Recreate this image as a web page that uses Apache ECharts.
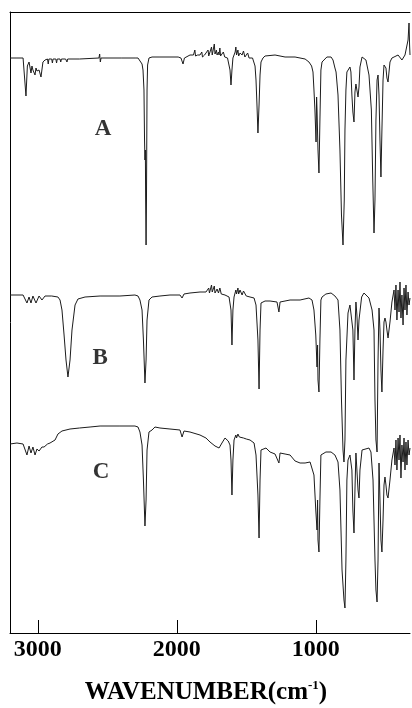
<!DOCTYPE html>
<html>
<head>
<meta charset="utf-8">
<script src="https://cdn.jsdelivr.net/npm/echarts@6/dist/echarts.min.js"></script>
<style>html,body{margin:0;padding:0;background:#fff;}#c{width:412px;height:708px;}</style>
</head>
<body>
<div id="c"></div>
<script>
// Wavenumber (cm-1) vs. relative depth (arbitrary units, larger = lower on the page)
var xTicks = [1000, 2000, 3000];
var traceNames = ['A', 'B', 'C'];
var traceLabelPos = [[2531, 117], [2552, 346], [2545, 460]];

var specA = [[3200,46],[3150,46],[3106,46],[3092,48],[3085,84],[3075,54],[3063,50],[3049,61],[3042,54],[3035,58],[3020,63],[3013,56],[3006,59],[2991,58],[2977,65],[2963,50],[2948,48],[2930,47],[2925,52],[2920,47],[2900,47],[2895,51],[2890,47],[2870,47],[2865,51],[2860,47],[2840,47],[2835,50],[2830,47],[2800,47],[2790,50],[2785,47],[2700,47],[2560,46],[2555,42],[2550,50],[2545,46],[2400,46],[2300,46],[2279,46],[2265,48],[2250,52],[2243,58],[2236,78],[2232,128],[2229,148],[2226,138],[2224,188],[2221,233],[2218,188],[2214,78],[2210,53],[2200,46],[2178,45],[2121,45],[2049,45],[1990,45],[1970,46],[1955,52],[1945,46],[1934,44],[1905,43],[1880,43],[1870,38],[1865,44],[1850,43],[1833,43],[1820,40],[1815,45],[1800,43],[1790,43],[1775,38],[1770,44],[1761,42],[1750,35],[1745,43],[1735,41],[1730,32],[1725,42],[1715,38],[1710,43],[1700,40],[1696,43],[1690,36],[1685,44],[1675,42],[1665,40],[1655,45],[1645,43],[1635,46],[1625,48],[1617,58],[1610,73],[1603,58],[1596,46],[1588,43],[1580,40],[1575,35],[1570,43],[1560,38],[1555,44],[1545,41],[1530,43],[1520,39],[1510,45],[1500,43],[1490,41],[1480,46],[1470,44],[1455,46],[1444,48],[1437,54],[1430,68],[1423,93],[1416,121],[1408,93],[1401,63],[1394,50],[1380,46],[1365,44],[1293,43],[1221,45],[1149,45],[1077,47],[1049,50],[1030,54],[1020,60],[1013,78],[1006,98],[998,130],[994,85],[991,98],[984,138],[977,161],[970,108],[963,58],[955,50],[941,48],[920,45],[890,45],[876,48],[862,56],[854,60],[840,83],[826,138],[815,203],[804,233],[795,188],[790,118],[783,78],[776,60],[768,58],[754,55],[747,60],[740,83],[733,100],[725,110],[718,80],[711,72],[704,71],[696,85],[689,75],[682,55],[667,45],[653,45],[639,48],[617,63],[600,98],[590,168],[581,221],[574,188],[567,108],[559,68],[552,63],[545,83],[538,128],[531,165],[524,118],[516,68],[509,53],[502,51],[495,56],[488,66],[480,70],[473,60],[466,50],[452,46],[437,45],[423,43],[408,43],[394,42],[380,48],[372,46],[358,43],[344,44],[336,28],[329,11],[325,33],[322,43]];

var specB = [[3200,283],[3106,283],[3092,284],[3078,291],[3063,285],[3049,291],[3035,284],[3013,291],[2991,284],[2970,288],[2948,284],[2900,284],[2855,285],[2840,288],[2826,298],[2811,323],[2797,348],[2783,365],[2768,348],[2754,318],[2732,293],[2711,287],[2660,285],[2552,284],[2409,284],[2301,283],[2279,284],[2265,288],[2250,298],[2240,328],[2229,371],[2221,348],[2214,308],[2200,288],[2178,285],[2121,284],[2049,283],[1977,283],[1962,286],[1948,282],[1905,281],[1833,280],[1790,280],[1770,276],[1765,281],[1750,273],[1745,280],[1730,274],[1725,281],[1710,277],[1700,281],[1690,276],[1680,282],[1653,283],[1624,285],[1610,298],[1603,333],[1596,298],[1588,285],[1575,278],[1570,282],[1560,276],[1555,282],[1545,278],[1530,283],[1520,279],[1500,284],[1473,285],[1444,286],[1430,293],[1416,328],[1408,377],[1401,318],[1394,291],[1387,290],[1365,289],[1329,289],[1279,290],[1265,300],[1257,290],[1185,288],[1113,288],[1049,286],[1027,288],[1013,298],[1000,323],[991,355],[987,333],[984,368],[977,380],[970,328],[963,288],[955,285],[927,282],[890,281],[862,284],[840,288],[826,318],[815,388],[804,438],[797,450],[790,428],[783,348],[768,301],[754,293],[740,291],[733,318],[725,368],[718,318],[711,290],[704,303],[696,328],[689,308],[670,285],[653,281],[617,286],[595,298],[581,318],[574,388],[567,428],[559,440],[552,348],[545,296],[538,318],[531,358],[524,380],[516,338],[509,310],[502,306],[495,310],[488,318],[480,326],[473,328],[466,310],[452,290],[444,288],[437,278],[430,298],[423,273],[416,308],[408,278],[401,300],[394,270],[387,306],[380,283],[372,313],[365,276],[358,298],[351,273],[344,303],[336,280],[329,293],[322,286]];

var specC = [[3200,432],[3150,431],[3106,432],[3092,434],[3078,443],[3063,434],[3049,441],[3035,435],[3020,443],[3006,437],[2991,439],[2970,435],[2955,435],[2930,432],[2912,431],[2876,428],[2855,422],[2826,419],[2768,417],[2700,416],[2624,415],[2552,414],[2409,414],[2301,414],[2279,415],[2265,420],[2250,433],[2240,468],[2229,514],[2221,488],[2214,438],[2200,420],[2178,418],[2157,415],[2121,416],[2049,417],[1977,418],[1962,425],[1948,419],[1905,420],[1833,423],[1790,426],[1761,430],[1725,434],[1696,436],[1675,431],[1653,426],[1646,425],[1630,429],[1617,433],[1610,448],[1603,483],[1596,448],[1588,428],[1575,423],[1570,426],[1560,422],[1550,425],[1540,424],[1520,426],[1500,427],[1473,428],[1444,431],[1430,443],[1416,483],[1408,526],[1401,468],[1394,438],[1380,436],[1358,436],[1329,440],[1293,442],[1279,444],[1265,451],[1257,441],[1221,442],[1185,443],[1149,449],[1113,451],[1099,452],[1077,451],[1041,450],[1027,450],[1013,463],[1000,498],[991,518],[987,488],[984,528],[977,540],[970,488],[963,443],[955,441],[927,440],[890,440],[862,443],[840,450],[826,478],[811,558],[797,588],[790,596],[783,548],[776,468],[768,448],[761,446],[754,443],[747,444],[740,458],[733,498],[725,521],[718,478],[711,441],[704,458],[696,478],[689,486],[682,458],[667,438],[653,436],[617,436],[603,440],[588,468],[574,548],[567,578],[559,590],[552,548],[545,451],[538,488],[531,528],[524,540],[516,508],[509,473],[502,465],[495,473],[488,483],[480,486],[473,486],[466,468],[452,448],[444,446],[437,436],[430,453],[423,428],[416,458],[408,426],[401,448],[394,423],[387,466],[380,433],[372,450],[365,426],[358,458],[351,430],[344,453],[336,428],[329,443],[322,436]];

var serif = "'Liberation Serif','Times New Roman',serif";
var chart = echarts.init(document.getElementById('c'), null, {renderer: 'canvas'});
var lineStyle = {color: '#1c1c1c', width: 1};
function trace(name, data) {
  return {name: name, type: 'line', data: data, showSymbol: false, symbol: 'none',
    lineStyle: lineStyle, animation: false, silent: true};
}
chart.setOption({
  animation: false,
  backgroundColor: '#ffffff',
  title: {
    text: '{a|WAVENUMBER(cm}{s|-1}{a|)}',
    left: 'center', top: 674,
    textStyle: {
      rich: {
        a: {fontFamily: serif, fontWeight: 'bold', fontSize: 25, color: '#000'},
        s: {fontFamily: serif, fontWeight: 'bold', fontSize: 13, color: '#000', verticalAlign: 'top', padding: [0, 0, 14, 0]}
      }
    }
  },
  grid: {left: 10, top: 12, width: 400, height: 621},
  xAxis: [{
    type: 'value', min: 322, max: 3200, inverse: true, position: 'bottom',
    axisLine: {show: true, onZero: false, lineStyle: {color: '#000', width: 1}},
    axisTick: {show: true, inside: true, length: 13, customValues: xTicks, lineStyle: {color: '#000', width: 1}},
    axisLabel: {show: true, customValues: xTicks, margin: 5, color: '#000', fontFamily: serif, fontWeight: 'bold', fontSize: 24,
      formatter: function (v) { return String(v); }},
    splitLine: {show: false}
  }, {
    type: 'value', min: 322, max: 3200, inverse: true, position: 'top',
    axisLine: {show: true, onZero: false, lineStyle: {color: '#000', width: 1}},
    axisTick: {show: false}, axisLabel: {show: false}, splitLine: {show: false}
  }],
  yAxis: {
    type: 'value', min: 0, max: 621, inverse: true,
    axisLine: {show: true, onZero: false, lineStyle: {color: '#000', width: 1}},
    axisTick: {show: false}, axisLabel: {show: false}, splitLine: {show: false}
  },
  series: [
    trace('A', specA), trace('B', specB), trace('C', specC),
    {
      type: 'scatter', symbolSize: 0, silent: true,
      data: traceLabelPos.map(function (p, i) { return {value: p, name: traceNames[i]}; }),
      label: {show: true, position: 'inside', formatter: '{b}', color: '#000',
        fontFamily: serif, fontWeight: 'bold', fontSize: 23}
    }
  ]
});
</script>
</body>
</html>
